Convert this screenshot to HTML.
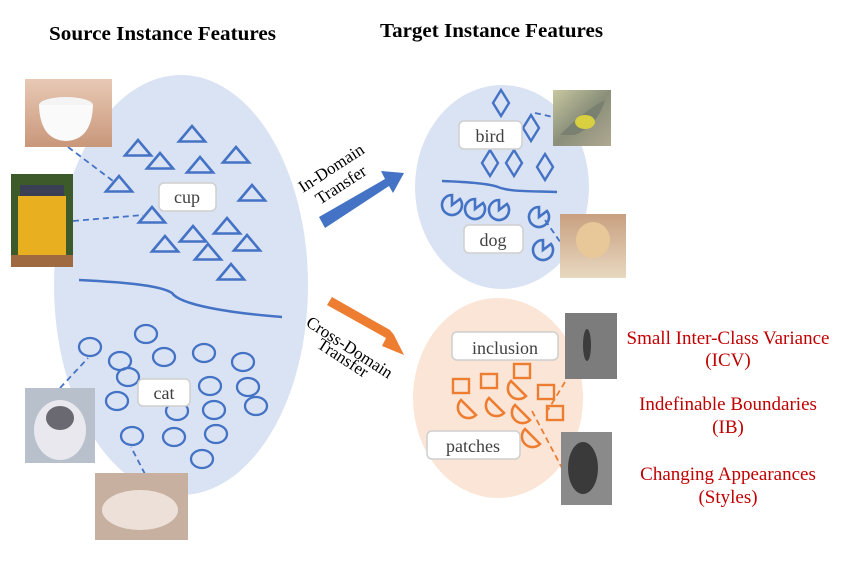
<!DOCTYPE html>
<html><head><style>body{margin:0;background:#fff}svg{display:block}</style></head><body>
<svg width="848" height="563" viewBox="0 0 848 563" xmlns="http://www.w3.org/2000/svg" font-family="Liberation Serif, serif">
<defs>
<g id="tri"><polygon points="-13,7.5 0,-8 13,7.5" fill="none" stroke="#4472c4" stroke-width="2.6"/></g>
<g id="cir"><ellipse rx="11" ry="9" fill="none" stroke="#4472c4" stroke-width="2.3"/></g>
<g id="dia"><polygon points="0,-13 8,0 0,13 -8,0" fill="none" stroke="#4472c4" stroke-width="2.4"/></g>
<g id="pac"><path d="M0,0 L8,-6 A10,10 0 1 1 0,-10 Z" fill="none" stroke="#4472c4" stroke-width="2.6"/></g>
<g id="sq"><rect x="-8" y="-7" width="16" height="14" fill="none" stroke="#ed7d31" stroke-width="2.4"/></g>
<g id="semi"><path d="M-6,-10 L9,5 A10.6,10.6 0 0 1 -6,-10 Z" fill="none" stroke="#ed7d31" stroke-width="2.6"/></g>
<linearGradient id="gcup" x1="0" y1="0" x2="0" y2="1"><stop offset="0" stop-color="#e8c9b5"/><stop offset="1" stop-color="#c9977a"/></linearGradient>
<linearGradient id="gbird" x1="0" y1="0" x2="1" y2="1"><stop offset="0" stop-color="#c8c8a0"/><stop offset="0.5" stop-color="#8a8f7a"/><stop offset="1" stop-color="#b0a890"/></linearGradient>
<linearGradient id="gdog" x1="0" y1="0" x2="0" y2="1"><stop offset="0" stop-color="#c8a080"/><stop offset="1" stop-color="#e8d8c0"/></linearGradient>
</defs>
<text x="49" y="40" font-size="20" font-weight="bold" textLength="227" lengthAdjust="spacingAndGlyphs">Source Instance Features</text>
<text x="380" y="37" font-size="20" font-weight="bold" textLength="223" lengthAdjust="spacingAndGlyphs">Target Instance Features</text>

<ellipse cx="181" cy="285" rx="127" ry="210" fill="#dae3f3"/>
<ellipse cx="502" cy="187" rx="87" ry="102" fill="#dae3f3"/>
<ellipse cx="498" cy="398" rx="85" ry="100" fill="#fbe5d6"/>

<g stroke="#4472c4" stroke-width="1.8" stroke-dasharray="6,4" fill="none">
<line x1="68" y1="147" x2="113" y2="181"/>
<line x1="73" y1="221" x2="143" y2="215"/>
<line x1="60" y1="388" x2="88" y2="358"/>
<line x1="145" y1="474" x2="131" y2="447"/>
<line x1="535" y1="113" x2="553" y2="117"/>
<line x1="545" y1="220" x2="563" y2="246"/>
</g>
<g stroke="#ed7d31" stroke-width="1.8" stroke-dasharray="6,4" fill="none">
<line x1="565" y1="382" x2="548" y2="410"/>
<line x1="532" y1="411" x2="563" y2="470"/>
</g>

<path d="M79,280 C120,282 160,285 172,293 C180,305 230,313 282,317" fill="none" stroke="#4472c4" stroke-width="2.5"/>
<path d="M442,181 C470,182 490,184 498,187 C510,192 530,191 557,192" fill="none" stroke="#4472c4" stroke-width="2.5"/>

<g>
<use href="#tri" x="192" y="134"/><use href="#tri" x="138" y="148"/><use href="#tri" x="160" y="161"/>
<use href="#tri" x="200" y="165"/><use href="#tri" x="236" y="155"/><use href="#tri" x="119" y="184"/>
<use href="#tri" x="252" y="193"/><use href="#tri" x="152" y="215"/><use href="#tri" x="193" y="234"/>
<use href="#tri" x="165" y="244"/><use href="#tri" x="227" y="226"/><use href="#tri" x="247" y="243"/>
<use href="#tri" x="208" y="252"/><use href="#tri" x="231" y="272"/>
</g>
<g>
<use href="#cir" x="90" y="347"/><use href="#cir" x="146" y="334"/><use href="#cir" x="120" y="361"/>
<use href="#cir" x="164" y="357"/><use href="#cir" x="204" y="353"/><use href="#cir" x="243" y="362"/>
<use href="#cir" x="128" y="377"/><use href="#cir" x="210" y="386"/><use href="#cir" x="248" y="387"/>
<use href="#cir" x="117" y="401"/><use href="#cir" x="177" y="411"/><use href="#cir" x="214" y="410"/>
<use href="#cir" x="256" y="406"/><use href="#cir" x="132" y="436"/><use href="#cir" x="174" y="437"/>
<use href="#cir" x="216" y="434"/><use href="#cir" x="202" y="459"/>
</g>
<use href="#dia" x="501" y="103"/><use href="#dia" x="531" y="128"/><use href="#dia" x="490" y="163"/>
<use href="#dia" x="514" y="163"/><use href="#dia" x="545" y="167"/>
<use href="#pac" x="452" y="205"/><use href="#pac" x="475" y="209"/><use href="#pac" x="499" y="210"/>
<use href="#pac" x="539" y="217"/><use href="#pac" x="543" y="250"/>
<use href="#sq" x="461" y="386"/><use href="#sq" x="489" y="381"/><use href="#sq" x="522" y="371"/>
<use href="#sq" x="546" y="392"/><use href="#sq" x="555" y="413"/>
<use href="#semi" x="467" y="410"/><use href="#semi" x="495" y="408"/><use href="#semi" x="517" y="391"/>
<use href="#semi" x="521" y="415"/><use href="#semi" x="531" y="439"/>

<g fill="#fff" stroke="#cfcfcf" stroke-width="1.5">
<rect x="159" y="183" width="57" height="28" rx="5"/>
<rect x="138" y="379" width="52" height="27" rx="5"/>
<rect x="459" y="121" width="63" height="28" rx="5"/>
<rect x="464" y="225" width="59" height="28" rx="5"/>
<rect x="452" y="332" width="106" height="28" rx="5"/>
<rect x="427" y="431" width="93" height="28" rx="5"/>
</g>
<g font-size="18" fill="#404040" text-anchor="middle">
<text x="187" y="203">cup</text>
<text x="164" y="399">cat</text>
<text x="490" y="142">bird</text>
<text x="493" y="246">dog</text>
<text x="505" y="354">inclusion</text>
<text x="473" y="452">patches</text>
</g>

<polygon points="319,217 385,179 381,171 404,173 393,193 389,186 325,228" fill="#4472c4"/>
<polygon points="327,305 386,338 382,346 404,355 394,335 390,330 332,297" fill="#ed7d31"/>
<g font-size="17" fill="#000">
<text transform="translate(303,193) rotate(-33)">In-Domain</text>
<text transform="translate(320,205) rotate(-33)">Transfer</text>
<text transform="translate(305,325) rotate(33)">Cross-Domain</text>
<text transform="translate(316,347) rotate(33)">Transfer</text>
</g>

<g font-size="19" fill="#c00000" text-anchor="middle">
<text x="728" y="344">Small Inter-Class Variance</text>
<text x="728" y="366">(ICV)</text>
<text x="728" y="410">Indefinable Boundaries</text>
<text x="728" y="433">(IB)</text>
<text x="728" y="480">Changing Appearances</text>
<text x="728" y="503">(Styles)</text>
</g>

<rect x="25" y="79" width="87" height="68" fill="url(#gcup)"/>
<ellipse cx="66" cy="105" rx="27" ry="8" fill="#f4f4f4"/>
<path d="M39,105 Q40,140 66,141 Q92,140 93,105 Z" fill="#fafafa"/>
<rect x="11" y="174" width="62" height="93" fill="#3d5a2a"/>
<rect x="20" y="185" width="44" height="12" fill="#3a3f55"/>
<rect x="18" y="196" width="48" height="60" fill="#e8b020"/>
<rect x="11" y="255" width="62" height="12" fill="#a06a40"/>
<rect x="25" y="388" width="70" height="75" fill="#b8c0cc"/>
<ellipse cx="60" cy="430" rx="26" ry="30" fill="#e8e8ee"/>
<ellipse cx="60" cy="418" rx="14" ry="12" fill="#6a6870"/>
<rect x="95" y="473" width="93" height="67" fill="#c8b0a0"/>
<ellipse cx="140" cy="510" rx="38" ry="20" fill="#ece0d8"/>
<rect x="553" y="90" width="58" height="56" fill="url(#gbird)"/>
<path d="M560,135 Q585,110 605,100 Q598,125 575,135 Z" fill="#7a8070"/>
<ellipse cx="585" cy="122" rx="10" ry="7" fill="#d8d040"/>
<rect x="560" y="214" width="66" height="64" fill="url(#gdog)"/>
<ellipse cx="593" cy="240" rx="17" ry="18" fill="#e8c898"/>
<rect x="565" y="313" width="52" height="66" fill="#7c7c7c"/>
<ellipse cx="587" cy="345" rx="4" ry="16" fill="#3c3c3c"/>
<rect x="561" y="432" width="51" height="73" fill="#8a8a8a"/>
<ellipse cx="583" cy="468" rx="15" ry="26" fill="#3a3a3a"/>
</svg>
</body></html>
